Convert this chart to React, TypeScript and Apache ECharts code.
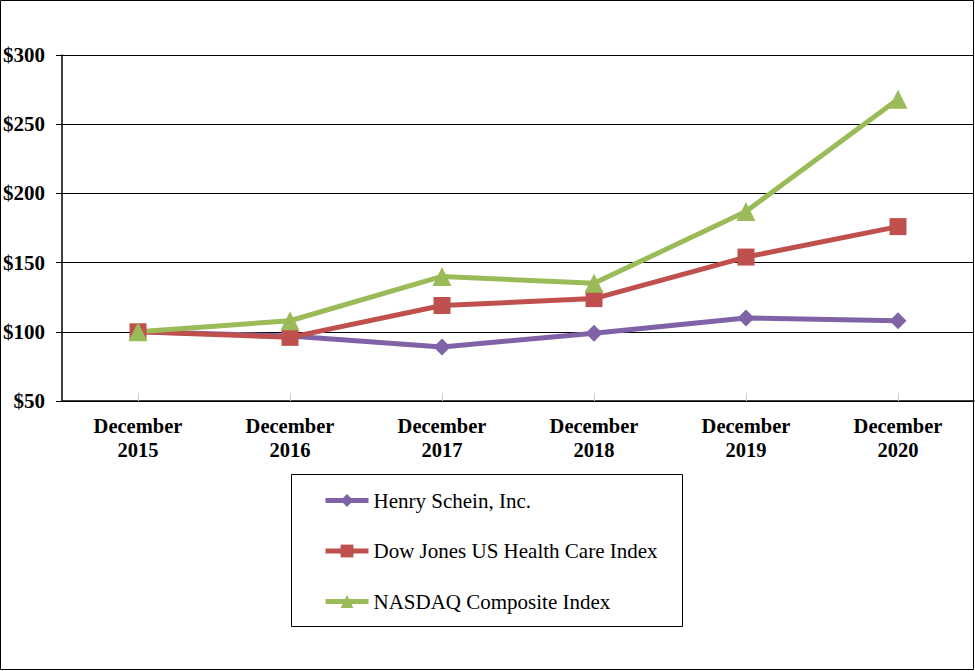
import React, { useEffect, useRef } from "react";
import * as echarts from "echarts";

const categories = ["December\n2015", "December\n2016", "December\n2017", "December\n2018", "December\n2019", "December\n2020"];
const seriesNames = ["Henry Schein, Inc.", "Dow Jones US Health Care Index", "NASDAQ Composite Index"];
const henrySchein = [100, 97, 89, 99, 110, 108];
const dowJonesHealth = [100, 96, 119, 124, 154, 176];
const nasdaq = [100, 108, 140, 135, 187, 268];
const yTicks = { min: 50, max: 300, interval: 50 };

const FONT = "'Liberation Serif', 'Times New Roman', serif";

export default function App() {
  const ref = useRef<HTMLDivElement>(null);
  useEffect(() => {
    if (!ref.current) return;
    const chart = echarts.init(ref.current, null, { renderer: "svg" });
    const mk = (name: string, data: number[], color: string, symbol: string, size: number) => ({
      name,
      type: "line",
      data,
      symbol,
      symbolSize: size,
      showAllSymbol: true,
      lineStyle: { color, width: 5 },
      itemStyle: { color, borderWidth: 0 },
      emphasis: { disabled: true },
    });
    chart.setOption({
      animation: false,
      backgroundColor: "#ffffff",
      grid: { left: 62, right: 1, top: 55, bottom: 270, containLabel: false },
      xAxis: {
        type: "category",
        data: categories,
        boundaryGap: true,
        axisLine: { lineStyle: { color: "#000", width: 1.5 } },
        axisTick: { show: true, inside: true, alignWithLabel: true, length: 8, lineStyle: { color: "#d0d0d0" } },
        axisLabel: {
          color: "#000",
          fontFamily: FONT,
          fontWeight: "bold",
          fontSize: 20.5,
          lineHeight: 24,
          margin: 13,
          interval: 0,
        },
      },
      yAxis: {
        type: "value",
        min: yTicks.min,
        max: yTicks.max,
        interval: yTicks.interval,
        axisLine: { show: true, lineStyle: { color: "#000", width: 1.5 } },
        axisTick: { show: true, length: 6, lineStyle: { color: "#000" } },
        splitLine: { show: true, lineStyle: { color: "#000", width: 1 } },
        axisLabel: {
          color: "#000",
          fontFamily: FONT,
          fontWeight: "bold",
          fontSize: 21,
          margin: 17,
          formatter: (v: number) => "$" + v,
        },
      },
      legend: {
        orient: "vertical",
        left: 323,
        top: 490,
        padding: 0,
        itemWidth: 43,
        itemHeight: 16,
        itemGap: 29.5,
        selectedMode: false,
        lineStyle: { width: 5 },
        textStyle: { color: "#000", fontFamily: FONT, fontSize: 21, lineHeight: 20 },
        data: seriesNames,
      },
      graphic: [
        {
          type: "rect",
          shape: { x: 291.5, y: 474.5, width: 391, height: 152 },
          style: { fill: "none", stroke: "#000", lineWidth: 1 },
          silent: true,
        },
        {
          type: "rect",
          shape: { x: 0.5, y: 0.5, width: 973, height: 669 },
          style: { fill: "none", stroke: "#000", lineWidth: 1 },
          silent: true,
        },
      ],
      series: [
        mk(seriesNames[0], henrySchein, "#7F63A6", "diamond", 17),
        mk(seriesNames[1], dowJonesHealth, "#C0504D", "rect", 17),
        mk(seriesNames[2], nasdaq, "#9BBB59", "triangle", 19),
      ],
    });
    return () => chart.dispose();
  }, []);
  return (
    <div
      ref={ref}
      style={{ position: "absolute", left: 0, top: 0, width: 975, height: 671, background: "#fff" }}
    />
  );
}
